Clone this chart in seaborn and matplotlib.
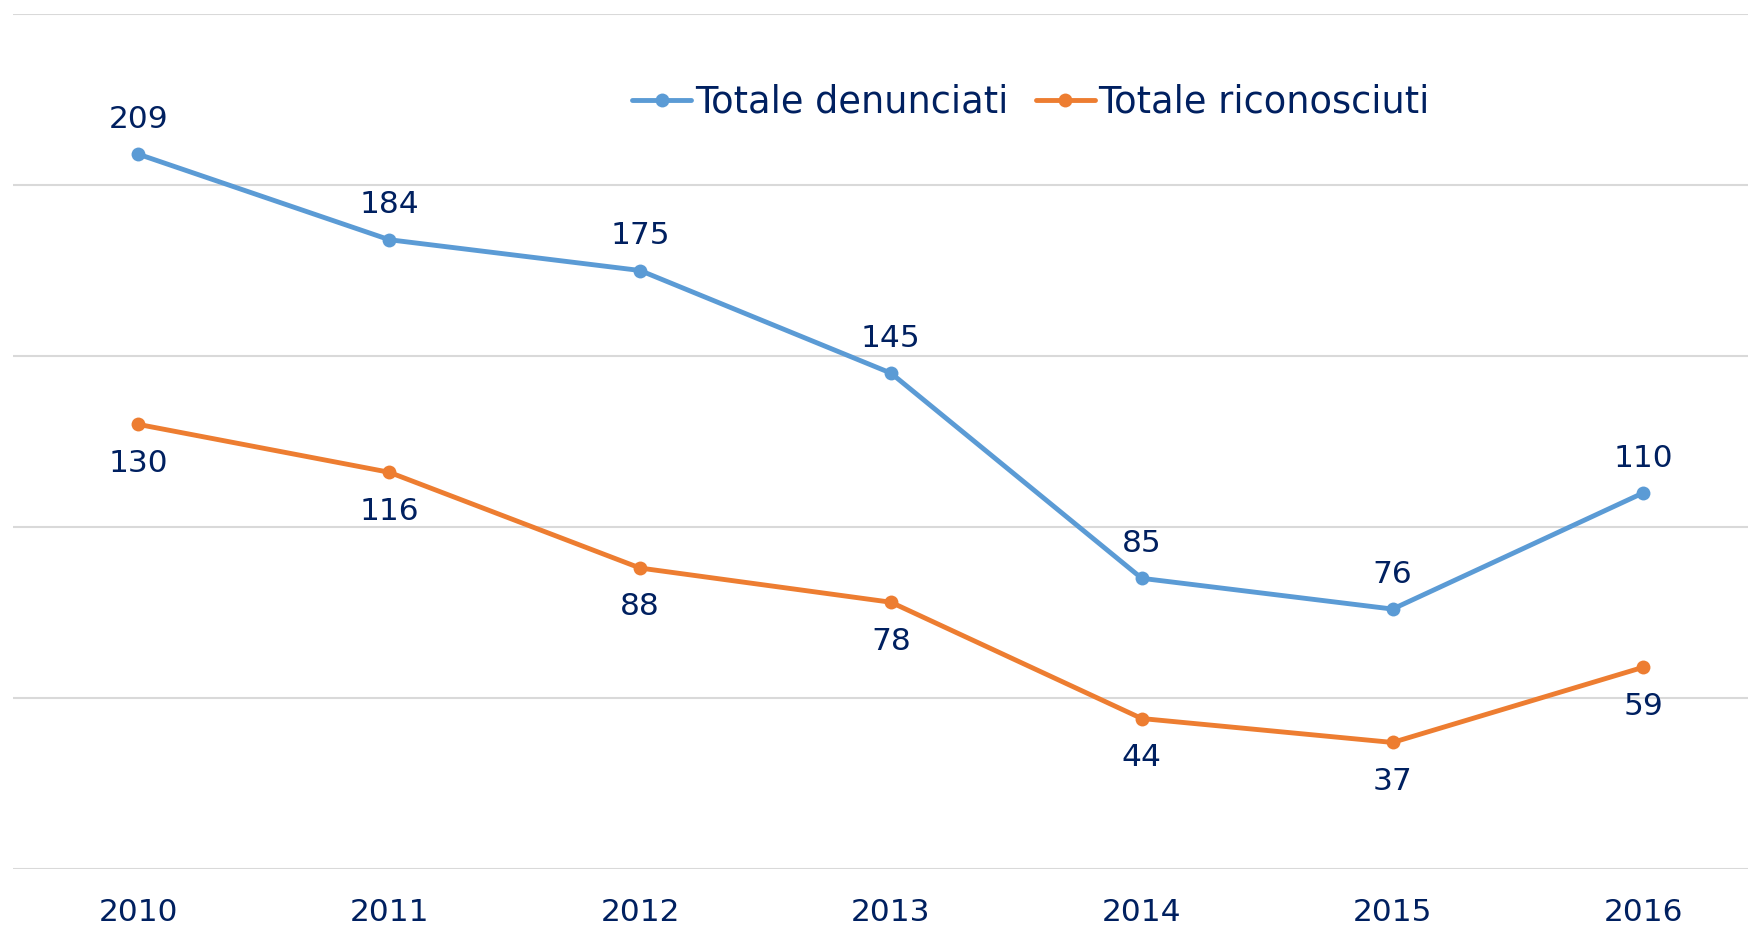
import pandas as pd
import numpy as np
import seaborn as sns
import matplotlib.pyplot as plt

# data
years = ['2010', '2011', '2012', '2013', '2014', '2015', '2016']
denunciati = [209, 184, 175, 145, 85, 76, 110]
riconosciuti = [130, 116, 88, 78, 44, 37, 59]
series_names = ['Totale denunciati', 'Totale riconosciuti']

navy = '#002060'
colors = ['#5B9BD5', '#ED7D31']

df = pd.DataFrame({
    'anno': years * 2,
    'x': list(range(len(years))) * 2,
    'valore': denunciati + riconosciuti,
    'serie': [series_names[0]] * len(years) + [series_names[1]] * len(years),
})

sns.set_style('white')
plt.rcParams['font.family'] = ['DejaVu Sans']

fig = plt.figure(figsize=(17.48, 9.27), dpi=100)
ax = fig.add_axes([13 / 1748, 58 / 927, 1 - 13 / 1748, (869 - 14) / 927])

sns.lineplot(data=df, x='x', y='valore', hue='serie', palette=colors,
             marker='o', markersize=10, markeredgewidth=0, linewidth=3.5,
             ax=ax, legend=True)

# data labels: blue above, orange below
for i, v in enumerate(denunciati):
    ax.annotate(str(v), (i, v), xytext=(0, 25), textcoords='offset points',
                ha='center', va='center', fontsize=22.5, color=navy)
for i, v in enumerate(riconosciuti):
    ax.annotate(str(v), (i, v), xytext=(0, -28), textcoords='offset points',
                ha='center', va='center', fontsize=22.5, color=navy)

ax.set_xlim(-0.5, 6.417)
ax.set_ylim(0, 250)
ax.set_yticks(np.arange(0, 251, 50))
ax.set_yticklabels([])
ax.set_xticks(range(len(years)))
ax.set_xticklabels(years, fontsize=22.5, color=navy)
ax.tick_params(axis='x', length=0, pad=21)
ax.tick_params(axis='y', length=0)
ax.grid(axis='y', color='#D9D9D9', linewidth=1.5)
ax.set_axisbelow(True)
ax.set_xlabel('')
ax.set_ylabel('')
for s in ax.spines.values():
    s.set_visible(False)

leg = ax.legend(loc='center', ncol=2, frameon=False, fontsize=26.5,
                handlelength=1.6, handletextpad=0.1, columnspacing=0.75,
                bbox_to_anchor=(1031 / 1748, 1 - 102 / 927),
                bbox_transform=fig.transFigure)
for t in leg.get_texts():
    t.set_color(navy)

fig.savefig('out.png', dpi=100)
